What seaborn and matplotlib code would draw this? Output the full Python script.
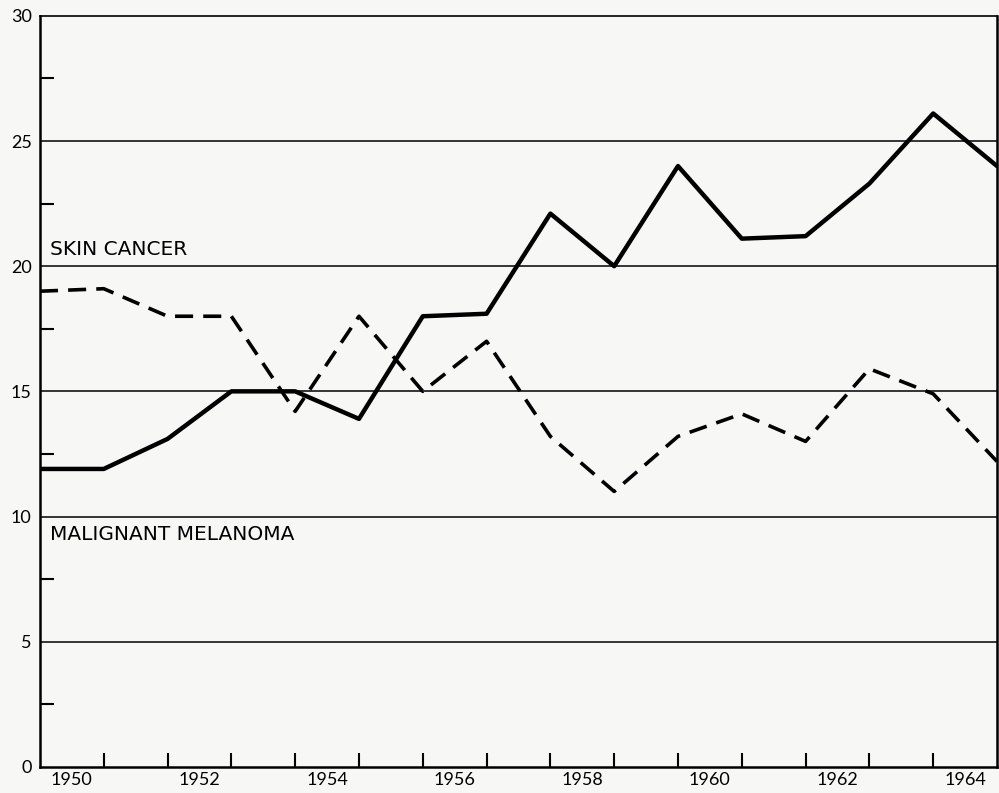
import pandas as pd
import seaborn as sns
import matplotlib.pyplot as plt
from matplotlib.ticker import MultipleLocator, FixedLocator, NullFormatter

# valores (um ponto no inicio de cada ano, 1950 ate 1965)
anos = [1950, 1951, 1952, 1953, 1954, 1955, 1956, 1957,
        1958, 1959, 1960, 1961, 1962, 1963, 1964, 1965]
pele = [11.9, 11.9, 13.1, 15.0, 15.0, 13.9, 18.0, 18.1,
        22.1, 20.0, 24.0, 21.1, 21.2, 23.3, 26.1, 24.0]
melanoma = [19.0, 19.1, 18.0, 18.0, 14.2, 18.0, 15.0, 17.0,
            13.2, 11.0, 13.2, 14.1, 13.0, 15.9, 14.9, 12.2]
rotulos_anos = ['1950', '1952', '1954', '1956', '1958', '1960', '1962', '1964']

tabela = pd.DataFrame({'ano': anos, 'pele': pele, 'melanoma': melanoma})

sns.set_style('white')
plt.rcParams['font.family'] = ['Lato', 'DejaVu Sans']
plt.rcParams['text.color'] = 'black'
plt.rcParams['xtick.labelcolor'] = 'black'
plt.rcParams['ytick.labelcolor'] = 'black'
fundo = '#f7f7f5'

fig = plt.figure(figsize=(9.99, 7.93), dpi=100, facecolor=fundo)
ax = fig.add_axes([0.040, 0.033, 0.958, 0.947])
ax.set_facecolor(fundo)

# linhas de grade horizontais
for v in [5, 10, 15, 20, 25]:
    ax.axhline(v, color='black', lw=1.1, zorder=1)

sns.lineplot(data=tabela, x='ano', y='pele', ax=ax, color='black', lw=3.2, zorder=3)
sns.lineplot(data=tabela, x='ano', y='melanoma', ax=ax, color='black', lw=2.6,
             zorder=3).lines[-1].set_dashes([5, 2.8])

ax.set_xlim(1950, 1965)
ax.set_ylim(0, 30)
ax.set_xlabel('')
ax.set_ylabel('')

# marcas do eixo x nos limites dos anos, rotulos no meio
ax.xaxis.set_major_locator(FixedLocator(anos[1:-1]))
ax.xaxis.set_major_formatter(NullFormatter())
ax.xaxis.set_minor_locator(FixedLocator([int(a) + 0.5 for a in rotulos_anos]))
ax.set_xticklabels(rotulos_anos, minor=True)
ax.tick_params(axis='x', which='major', bottom=True, direction='in', length=10,
               width=1.5, color='black')
ax.tick_params(axis='x', which='minor', bottom=True, length=0, pad=4, labelsize=13,
               labelcolor='black')

ax.yaxis.set_major_locator(MultipleLocator(5))
ax.yaxis.set_minor_locator(MultipleLocator(2.5))
ax.tick_params(axis='y', which='major', left=True, length=0, pad=6, labelsize=13,
               labelcolor='black')
ax.tick_params(axis='y', which='minor', left=True, direction='in', length=10,
               width=1.5, color='black')

for lado in ['left', 'bottom', 'top', 'right']:
    ax.spines[lado].set_visible(True)
    ax.spines[lado].set_color('black')
    ax.spines[lado].set_linewidth(1.8)
ax.spines['top'].set_linewidth(1.2)

ax.text(1950.15, 20.3, 'SKIN CANCER', fontsize=14.5, va='bottom', ha='left',
        family='DejaVu Sans', color='black')
ax.text(1950.15, 9.65, 'MALIGNANT MELANOMA', fontsize=14.5, va='top', ha='left',
        family='DejaVu Sans', color='black')

plt.savefig('out.png', dpi=100, facecolor=fundo)
